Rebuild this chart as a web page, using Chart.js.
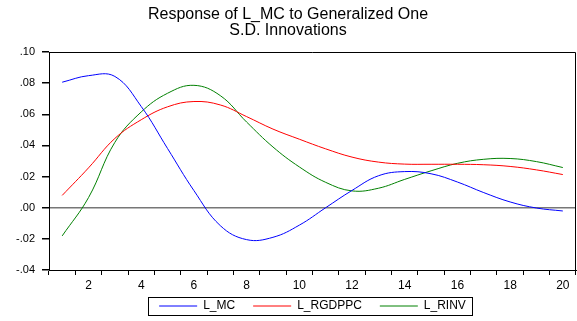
<!DOCTYPE html>
<html>
<head>
<meta charset="utf-8">
<script src="https://cdn.jsdelivr.net/npm/chart.js@4.4.0/dist/chart.umd.min.js"></script>
<style>
  html, body { margin: 0; padding: 0; background: #fff; }
  #wrap { width: 577px; height: 321px; }
</style>
</head>
<body>
<div id="wrap"><canvas id="chart" width="577" height="321"></canvas></div>
<script>
const periods = ['1', '2', '3', '4', '5', '6', '7', '8', '9', '10',
                 '11', '12', '13', '14', '15', '16', '17', '18', '19', '20'];
const lMc = [0.0806, 0.0848, 0.0843, 0.0650, 0.0380, 0.0110, -0.0115, -0.0205, -0.0190, -0.0112,
             0.0000, 0.0111, 0.0205, 0.0232, 0.0218, 0.0165, 0.0097, 0.0037, -0.0002, -0.0021];
const lRgdppc = [0.0079, 0.0256, 0.0445, 0.0565, 0.0648, 0.0682, 0.0660, 0.0585, 0.0505, 0.0440,
                 0.0378, 0.0325, 0.0293, 0.0280, 0.0279, 0.0279, 0.0276, 0.0265, 0.0243, 0.0213];
const lRinv = [-0.0181, 0.0065, 0.0420, 0.0615, 0.0735, 0.0786, 0.0720, 0.0550, 0.0390, 0.0262,
               0.0163, 0.0108, 0.0125, 0.0182, 0.0237, 0.0285, 0.0311, 0.0316, 0.0296, 0.0258];

Chart.defaults.font.family = "'Liberation Sans', Arial, sans-serif";
Chart.defaults.color = '#000';

// top/right frame of the plot box + border round the legend
const framePlugin = {
    id: 'frame',
    afterLayout(chart) {
        // pull the legend up closer to the axis labels
        chart.legend.top -= 10;
        chart.legend.bottom -= 10;
    },
    beforeDatasetsDraw(chart) {
        const { ctx, chartArea: a } = chart;
        const t = Math.round(a.top) + 0.5;
        const r = Math.round(a.right) - 0.5;
        ctx.save();
        ctx.strokeStyle = '#000';
        ctx.lineWidth = 1;
        ctx.beginPath();
        ctx.moveTo(a.left, t);
        ctx.lineTo(r, t);
        ctx.lineTo(r, a.bottom);
        ctx.stroke();
        ctx.restore();
    },
    afterDraw(chart) {
        const boxes = chart.legend.legendHitBoxes;
        if (!boxes || !boxes.length) return;
        const { ctx } = chart;
        const left = Math.min(...boxes.map(b => b.left)) - 11;
        const right = Math.max(...boxes.map(b => b.left + b.width)) + 6;
        const top = boxes[0].top - 3;
        const h = boxes[0].height + 6;
        ctx.save();
        ctx.strokeStyle = '#000';
        ctx.lineWidth = 1;
        ctx.strokeRect(Math.round(left) + 0.5, Math.round(top) + 0.5, Math.round(right - left), Math.round(h));
        ctx.restore();
    }
};

const ctx = document.getElementById('chart').getContext('2d');

const chart = new Chart(ctx, {
    type: 'line',
    data: {
        labels: periods,
        datasets: [
            { label: 'L_MC', data: lMc, borderColor: '#0000ff', backgroundColor: '#0000ff' },
            { label: 'L_RGDPPC', data: lRgdppc, borderColor: '#ff0000', backgroundColor: '#ff0000' },
            { label: 'L_RINV', data: lRinv, borderColor: '#008000', backgroundColor: '#008000' },
        ],
    },
    options: {
        responsive: false,
        animation: false,
        layout: { padding: { left: 0, right: 1, top: 0, bottom: -11 } },
        elements: {
            line: { borderWidth: 1, tension: 0.4, fill: false },
            point: { radius: 0 },
        },
        plugins: {
            title: {
                display: true,
                text: ['Response of L_MC to Generalized One', 'S.D. Innovations'],
                font: { size: 16, weight: 'normal', lineHeight: 1.0 },
                color: '#000',
                padding: { top: 7, bottom: 13 },
            },
            legend: {
                position: 'bottom',
                fullSize: false,
                labels: {
                    usePointStyle: true,
                    pointStyle: 'line',
                    pointStyleWidth: 38,
                    boxWidth: 38,
                    padding: 18,
                    font: { size: 12 },
                    color: '#000',
                },
            },
            tooltip: { enabled: false },
        },
        scales: {
            x: {
                offset: true,
                afterFit: (scale) => { scale.height = 22; },
                grid: { offset: true, drawOnChartArea: false, tickLength: 5, tickColor: '#000' },
                border: { display: true, color: '#000' },
                ticks: {
                    autoSkip: false,
                    maxRotation: 0,
                    padding: 3,
                    font: { size: 12 },
                    callback: function (value) {
                        const lab = this.getLabelForValue(value);
                        return Number(lab) % 2 === 0 ? lab : '';
                    },
                },
            },
            y: {
                min: -0.04,
                max: 0.10,
                afterFit: (scale) => { scale.width = 49; },
                grid: {
                    drawOnChartArea: true,
                    tickLength: 7,
                    tickColor: '#000',
                    lineWidth: 1.5,
                    color: (c) => (c.tick && Math.abs(c.tick.value) < 1e-9 ? '#777777' : 'rgba(0,0,0,0)'),
                },
                border: { display: true, color: '#000' },
                ticks: {
                    stepSize: 0.02,
                    padding: 7,
                    font: { size: 11 },
                    callback: (v) => (v < -1e-9 ? '-' : '') + Math.abs(v).toFixed(2).replace(/^0/, ''),
                },
            },
        },
    },
    plugins: [framePlugin],
});
</script>
</body>
</html>
